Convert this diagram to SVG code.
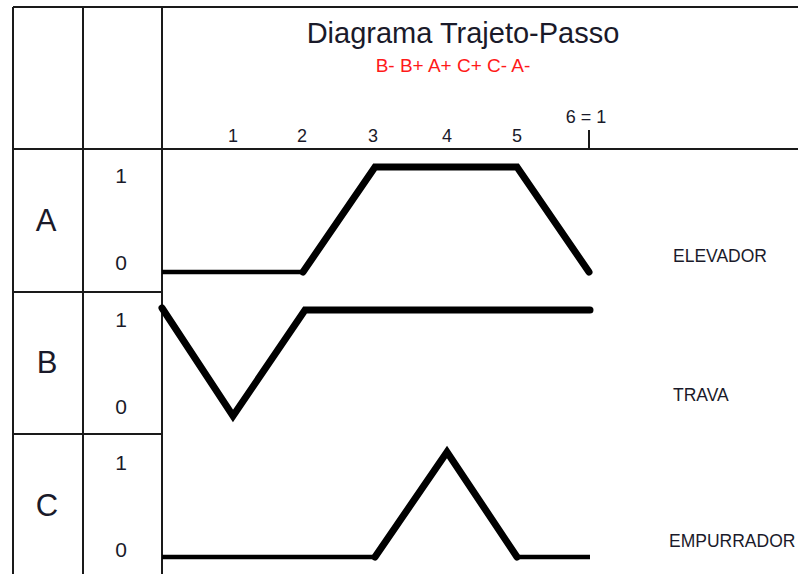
<svg xmlns="http://www.w3.org/2000/svg" width="798" height="574" viewBox="0 0 798 574">
<style>
.grid{stroke:#1a1a1a;stroke-width:2;fill:none}
.t{font-family:"Liberation Sans",Arial,sans-serif;fill:#1a1a2a}
.n{font-size:18px;text-anchor:middle}
.d{font-size:21px;text-anchor:middle}
.lbl{font-size:31px;text-anchor:middle}
.side{font-size:17.5px}
.w{fill:none;stroke:#000;stroke-linejoin:miter;stroke-linecap:round}
.thick{stroke-width:7}
.thin{stroke-width:4.5;stroke-linecap:butt}
</style>
<rect width="798" height="574" fill="#fff"/>
<g id="grid">
<line class="grid" x1="13" y1="7" x2="798" y2="7"/>
<line class="grid" x1="13" y1="149" x2="798" y2="149"/>
<line class="grid" x1="13" y1="7" x2="13" y2="574"/>
<line class="grid" x1="83" y1="7" x2="83" y2="574"/>
<line class="grid" x1="162" y1="7" x2="162" y2="574"/>
<line class="grid" x1="13" y1="292" x2="162" y2="292"/>
<line class="grid" x1="13" y1="434" x2="162" y2="434"/>
<line class="grid" x1="589" y1="130" x2="589" y2="149"/>
</g>
<g id="header">
<text class="t" x="463" y="43" font-size="29" text-anchor="middle">Diagrama Trajeto-Passo</text>
<text class="t" x="453" y="72" font-size="19" text-anchor="middle" style="fill:#ff1a1a">B- B+ A+ C+ C- A-</text>
<text class="t n" x="233" y="142">1</text>
<text class="t n" x="302" y="142">2</text>
<text class="t n" x="373" y="142">3</text>
<text class="t n" x="447" y="142">4</text>
<text class="t n" x="517" y="142">5</text>
<text class="t n" x="586" y="123">6 = 1</text>
</g>
<g id="rowA">
<text class="t lbl" x="46" y="231">A</text>
<text class="t d" x="121" y="183">1</text>
<text class="t d" x="121" y="270">0</text>
<text class="t side" x="673" y="262">ELEVADOR</text>
</g>
<g id="rowB">
<text class="t lbl" x="47" y="373">B</text>
<text class="t d" x="121" y="327">1</text>
<text class="t d" x="121" y="414">0</text>
<text class="t side" x="673" y="401">TRAVA</text>
</g>
<g id="rowC">
<text class="t lbl" x="47" y="516">C</text>
<text class="t d" x="121" y="470">1</text>
<text class="t d" x="121" y="557">0</text>
<text class="t side" x="669" y="547">EMPURRADOR</text>
</g>
<g id="connectors">
<line class="w thin" x1="162" y1="272" x2="303" y2="272"/>
<polyline class="w thick" points="303,272 375,167 517,167 589,272"/>
<polyline class="w thick" points="162,308 233,416 305,310 590,310"/>
<line class="w thin" x1="162" y1="557" x2="375" y2="557"/>
<polyline class="w thick" points="375,557 447,452 517,557"/>
<line class="w thin" x1="517" y1="557" x2="590" y2="557"/>
</g>
</svg>
